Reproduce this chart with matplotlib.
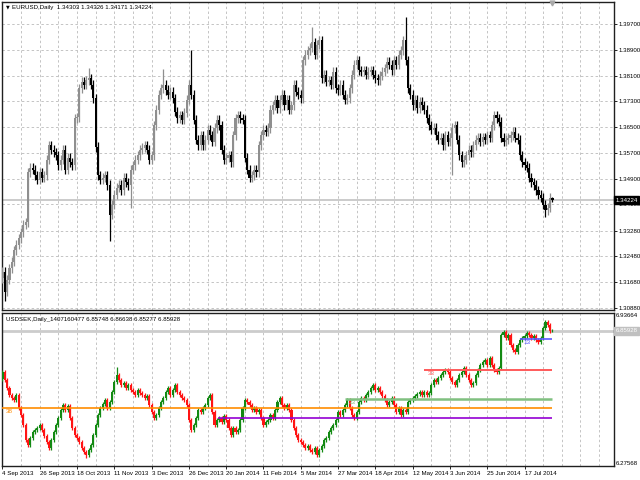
import matplotlib
matplotlib.use('Agg')
import matplotlib.pyplot as plt
import numpy as np
from matplotlib.transforms import ScaledTranslation

plt.rcParams['font.family'] = ['Liberation Sans', 'DejaVu Sans']

# ---------------- data ----------------
eur_first_open = 1.3180
eur_close = [
    1.3200, 1.3138, 1.3175, 1.3212, 1.3231, 1.3268, 1.3284, 1.3305, 1.3324, 1.3346,
    1.3355, 1.3510, 1.3523, 1.3517, 1.3501, 1.3486, 1.3510, 1.3492, 1.3501, 1.3548,
    1.3594, 1.3579, 1.3572, 1.3563, 1.3532, 1.3548, 1.3579, 1.3517, 1.3554, 1.3541,
    1.3532, 1.3678, 1.3681, 1.3771, 1.3790, 1.3781, 1.3796, 1.3802, 1.3781, 1.3740,
    1.3588, 1.3501, 1.3486, 1.3492, 1.3501, 1.3470, 1.3377, 1.3408, 1.3439, 1.3461,
    1.3470, 1.3454, 1.3492, 1.3479, 1.3470, 1.3517, 1.3532, 1.3548, 1.3563, 1.3579,
    1.3585, 1.3594, 1.3579, 1.3548, 1.3563, 1.3656, 1.3703, 1.3750, 1.3771, 1.3781,
    1.3765, 1.3750, 1.3759, 1.3740, 1.3697, 1.3678, 1.3687, 1.3672, 1.3694, 1.3734,
    1.3781, 1.3750, 1.3672, 1.3610, 1.3594, 1.3625, 1.3594, 1.3610, 1.3641, 1.3625,
    1.3604, 1.3647, 1.3672, 1.3656, 1.3579, 1.3548, 1.3554, 1.3563, 1.3541, 1.3625,
    1.3678, 1.3687, 1.3678, 1.3672, 1.3554, 1.3517, 1.3492, 1.3501, 1.3517, 1.3510,
    1.3594, 1.3625, 1.3641, 1.3635, 1.3647, 1.3703, 1.3718, 1.3734, 1.3709, 1.3734,
    1.3750, 1.3718, 1.3734, 1.3703, 1.3718, 1.3781, 1.3759, 1.3750, 1.3740, 1.3858,
    1.3874, 1.3889, 1.3896, 1.3914, 1.3874, 1.3905, 1.3920, 1.3802, 1.3812, 1.3790,
    1.3796, 1.3781, 1.3821, 1.3771, 1.3765, 1.3781, 1.3750, 1.3734, 1.3740, 1.3771,
    1.3812, 1.3843, 1.3858, 1.3827, 1.3821, 1.3827, 1.3812, 1.3821, 1.3827, 1.3812,
    1.3802, 1.3796, 1.3809, 1.3821, 1.3833, 1.3852, 1.3843, 1.3827, 1.3858, 1.3843,
    1.3874, 1.3889, 1.3920, 1.3858, 1.3771, 1.3750, 1.3718, 1.3734, 1.3709, 1.3728,
    1.3718, 1.3703, 1.3678, 1.3656, 1.3641, 1.3647, 1.3625, 1.3610, 1.3616, 1.3594,
    1.3625, 1.3604, 1.3616, 1.3647, 1.3656, 1.3610, 1.3563, 1.3541, 1.3548, 1.3563,
    1.3579, 1.3572, 1.3594, 1.3610, 1.3616, 1.3604, 1.3619, 1.3610, 1.3625, 1.3616,
    1.3656, 1.3687, 1.3678, 1.3666, 1.3616, 1.3604, 1.3610, 1.3616, 1.3625, 1.3635,
    1.3616, 1.3610, 1.3563, 1.3541, 1.3532, 1.3523, 1.3492, 1.3479, 1.3470, 1.3454,
    1.3439, 1.3430, 1.3408, 1.3392, 1.3399, 1.34303, 1.34224,
]
eur_high_spikes = {37: 1.3832, 69: 1.3830, 81: 1.3889, 133: 1.3962, 173: 1.3992, 236: 1.34326}
eur_low_spikes = {1: 1.3110, 46: 1.3296, 55: 1.3400, 193: 1.3501, 233: 1.3370, 236: 1.34171}

sek_first_open = 6.6500
sek_close = [
    6.6818, 6.6472, 6.6127, 6.5824, 6.5695, 6.5608, 6.5824, 6.5263, 6.4960, 6.4528,
    6.3880, 6.3664, 6.3967, 6.4226, 6.4312, 6.4399, 6.4528, 6.4312, 6.4053, 6.3794,
    6.3535, 6.3880, 6.4226, 6.4528, 6.4831, 6.5176, 6.5392, 6.5176, 6.5349, 6.4831,
    6.4399, 6.4096, 6.3967, 6.3794, 6.3535, 6.3362, 6.3232, 6.3448, 6.3664, 6.4096,
    6.4528, 6.4960, 6.5263, 6.5435, 6.5608, 6.5263, 6.5522, 6.5954, 6.6386, 6.6688,
    6.6472, 6.6256, 6.6343, 6.6127, 6.6256, 6.6040, 6.5954, 6.5824, 6.6040, 6.5911,
    6.5824, 6.5695, 6.5781, 6.5392, 6.5090, 6.4831, 6.4960, 6.5263, 6.5522, 6.5695,
    6.5954, 6.6127, 6.5824, 6.6040, 6.6256, 6.5954, 6.5824, 6.5695, 6.5608, 6.5392,
    6.4744, 6.4312, 6.4528, 6.4831, 6.5176, 6.5090, 6.5263, 6.5392, 6.5695, 6.5824,
    6.5090, 6.4528, 6.4744, 6.4831, 6.4658, 6.4917, 6.4744, 6.4399, 6.4096, 6.4399,
    6.4226, 6.4312, 6.4744, 6.5263, 6.5608, 6.5522, 6.5392, 6.5176, 6.5263, 6.5090,
    6.5176, 6.4831, 6.4528, 6.4658, 6.4744, 6.4960, 6.4831, 6.5176, 6.5522, 6.5695,
    6.5392, 6.5263, 6.5392, 6.5176, 6.4744, 6.4399, 6.4096, 6.3880, 6.3794, 6.3664,
    6.3535, 6.3621, 6.3448, 6.3362, 6.3535, 6.3232, 6.3448, 6.3621, 6.3880, 6.3967,
    6.4226, 6.4399, 6.4528, 6.4744, 6.5090, 6.4960, 6.5176, 6.5392, 6.5608, 6.5263,
    6.4960, 6.4831, 6.5090, 6.5522, 6.5695, 6.5608, 6.5824, 6.5954, 6.6127, 6.6256,
    6.6040, 6.6127, 6.5954, 6.5781, 6.5608, 6.5392, 6.5522, 6.5695, 6.5392, 6.5090,
    6.5263, 6.4960, 6.5176, 6.5090, 6.5522, 6.5608, 6.5695, 6.5781, 6.5867, 6.5954,
    6.5824, 6.5954, 6.5824, 6.5911, 6.6256, 6.6472, 6.6386, 6.6559, 6.6688, 6.6818,
    6.6904, 6.6818, 6.6559, 6.6386, 6.6256, 6.6472, 6.6688, 6.6818, 6.6991, 6.6688,
    6.6472, 6.6256, 6.6343, 6.6688, 6.6904, 6.7120, 6.7250, 6.7336, 6.7120, 6.7423,
    6.7120, 6.6904, 6.6818, 6.6991, 6.8416, 6.8546, 6.8287, 6.8416, 6.7984, 6.7768,
    6.7682, 6.7984, 6.8200, 6.8287, 6.8373, 6.8503, 6.8416, 6.8287, 6.8373, 6.8200,
    6.8114, 6.8287, 6.8719, 6.8978, 6.8848, 6.85748, 6.85928,
]
sek_high_spikes = {49: 6.7034, 233: 6.9064, 236: 6.86638}
sek_low_spikes = {36: 6.3100, 135: 6.3150, 236: 6.85277}

date_labels = ['4 Sep 2013', '26 Sep 2013', '18 Oct 2013', '11 Nov 2013', '3 Dec 2013',
               '26 Dec 2013', '20 Jan 2014', '11 Feb 2014', '5 Mar 2014', '27 Mar 2014',
               '18 Apr 2014', '12 May 2014', '3 Jun 2014', '25 Jun 2014', '17 Jul 2014']
date_bars = [0, 16, 32, 48, 64, 80, 96, 112, 128, 144, 160, 176, 192, 208, 224]

eur_ticks = [1.39700, 1.38900, 1.38100, 1.37300, 1.36500, 1.35700, 1.34900, 1.34100,
             1.33280, 1.32480, 1.31680, 1.30880]
eur_last = 1.34224
sek_last = 6.85928
sek_top, sek_bottom = 6.93664, 6.27568

# levels on USDSEK: (label, price, first bar)
sek_levels = [
    ('38', 6.5250, 0),
    ('', 6.4818, 92.5),
    ('23', 6.5651, 147),
    ('33', 6.6904, 181),
    ('13', 6.8256, 222),
]
level_colors = ['#ff8c00', '#9400d3', '#80c080', '#ff5a5a', '#5a5aff']
level_widths = [1.2, 1.2, 1.8, 1.4, 1.2]

# ---------------- helpers ----------------
def ohlc(first_open, close, hi_sp, lo_sp, wick):
    c = np.array(close)
    o = np.concatenate([[first_open], c[:-1]])
    h = np.maximum(o, c) + wick
    l = np.minimum(o, c) - wick
    for k, v in hi_sp.items():
        h[k] = v if k == len(c) - 1 else max(h[k], v)
    for k, v in lo_sp.items():
        l[k] = v if k == len(c) - 1 else min(l[k], v)
    return o, h, l, c


def draw_candles(ax, o, h, l, c, up, down, width, minh):
    x = np.arange(len(c))
    cols = [up if cc >= oo else down for oo, cc in zip(o, c)]
    ax.vlines(x, l, h, colors=cols, linewidth=0.9, zorder=3)
    bottom = np.minimum(o, c)
    height = np.maximum(np.abs(c - o), minh)
    ax.bar(x, height, width, bottom, color=cols, linewidth=0, zorder=3)


fig = plt.figure(figsize=(6.4, 4.8), dpi=100)
fig.patch.set_facecolor('white')
W, H = 640.0, 480.0
xl = (-0.2, 262.4)

ax1 = fig.add_axes([2 / W, 1 - 310 / H, 612 / W, 308 / H])
ax2 = fig.add_axes([2 / W, 1 - 466 / H, 612 / W, 153 / H])

grid_kw = dict(color='#c4c4c4', linewidth=0.7, linestyle=(0, (2.5, 2.5)), zorder=1)

for ax in (ax1, ax2):
    ax.set_xlim(*xl)
    for sp in ax.spines.values():
        sp.set_color('#202020')
        sp.set_linewidth(1.0)
    for gx in np.arange(8, 262, 8):
        ax.axvline(gx, **grid_kw)

# ---- top panel ----
ax1.set_ylim(1.30818, 1.40383)
for t in eur_ticks:
    ax1.axhline(t, **grid_kw)
o, h, l, c = ohlc(eur_first_open, eur_close, eur_high_spikes, eur_low_spikes, 0.0014)
draw_candles(ax1, o, h, l, c, '#8f8f8f', '#000000', 0.9, 0.0002)
ax1.axhline(eur_last, color='#bdbdbd', linewidth=1.1, zorder=2)
ax1.yaxis.tick_right()
ax1.set_yticks(eur_ticks)
ax1.set_yticklabels(['%.5f' % t for t in eur_ticks])
ax1.tick_params(axis='y', length=2, width=0.6, pad=1, labelsize=4.4, colors='black')
ax1.set_xticks([])

off = ScaledTranslation(1.5 / 100, 0, fig.dpi_scale_trans)
ax1.text(1.0, eur_last, '%.5f' % eur_last, transform=ax1.get_yaxis_transform() + off,
         ha='left', va='center', fontsize=4.4, color='white', zorder=10, clip_on=False,
         bbox=dict(boxstyle='square,pad=0.25', fc='black', ec='black'))
ax1.text(0.006, 0.983, '\u25bc', transform=ax1.transAxes, fontsize=3.5, color='black',
         ha='left', va='center', family='DejaVu Sans')
ax1.text(0.016, 0.983, 'EURUSD,Daily  1.34303 1.34326 1.34171 1.34224',
         transform=ax1.transAxes, fontsize=4.4, ha='left', va='center', color='black')
ax1.plot([236], [0.996], marker='v', markersize=3.5, color='#a8a8a8',
         transform=ax1.get_xaxis_transform(), clip_on=False, zorder=5)

# ---- bottom panel ----
ax2.set_ylim(sek_bottom, sek_top)
o2, h2, l2, c2 = ohlc(sek_first_open, sek_close, sek_high_spikes, sek_low_spikes, 0.008)
ax2.axhline(sek_last, color='#cccccc', linewidth=2.0, zorder=2)
draw_candles(ax2, o2, h2, l2, c2, '#138a13', '#ff1414', 0.9, 0.001)
last_bar = len(sek_close) - 1
for (lab, price, start), col, lw in zip(sek_levels, level_colors, level_widths):
    ax2.plot([max(start, xl[0]), last_bar], [price, price], color=col, linewidth=lw, zorder=4,
             solid_capstyle='butt')
    if lab:
        ax2.text(start + 1.5, price - 0.004, lab, color=col, fontsize=4.6, ha='left', va='top',
                 zorder=5)

ax2.set_yticks([])
ax2.yaxis.tick_right()
ax2.text(1.0, sek_top, '%.5f' % sek_top, transform=ax2.get_yaxis_transform() + off,
         ha='left', va='top', fontsize=4.4, color='black', clip_on=False)
ax2.text(1.0, sek_bottom, '%.5f' % sek_bottom, transform=ax2.get_yaxis_transform() + off,
         ha='left', va='bottom', fontsize=4.4, color='black', clip_on=False)
ax2.text(1.0, sek_last, '%.5f' % sek_last, transform=ax2.get_yaxis_transform() + off,
         ha='left', va='center', fontsize=4.4, color='white', zorder=10, clip_on=False,
         bbox=dict(boxstyle='square,pad=0.25', fc='#c0c0c0', ec='#c0c0c0'))
ax2.text(0.006, 0.955, 'USDSEK,Daily_1407160477 6.85748 6.86638 6.85277 6.85928',
         transform=ax2.transAxes, fontsize=4.4, ha='left', va='center', color='black')

ax2.set_xticks(date_bars)
ax2.set_xticklabels(date_labels)
ax2.tick_params(axis='x', length=2, width=0.6, pad=1.5, labelsize=4.4, colors='black')
for lab in ax2.get_xticklabels():
    lab.set_ha('left')

fig.savefig('out.png', dpi=100, facecolor='white')
